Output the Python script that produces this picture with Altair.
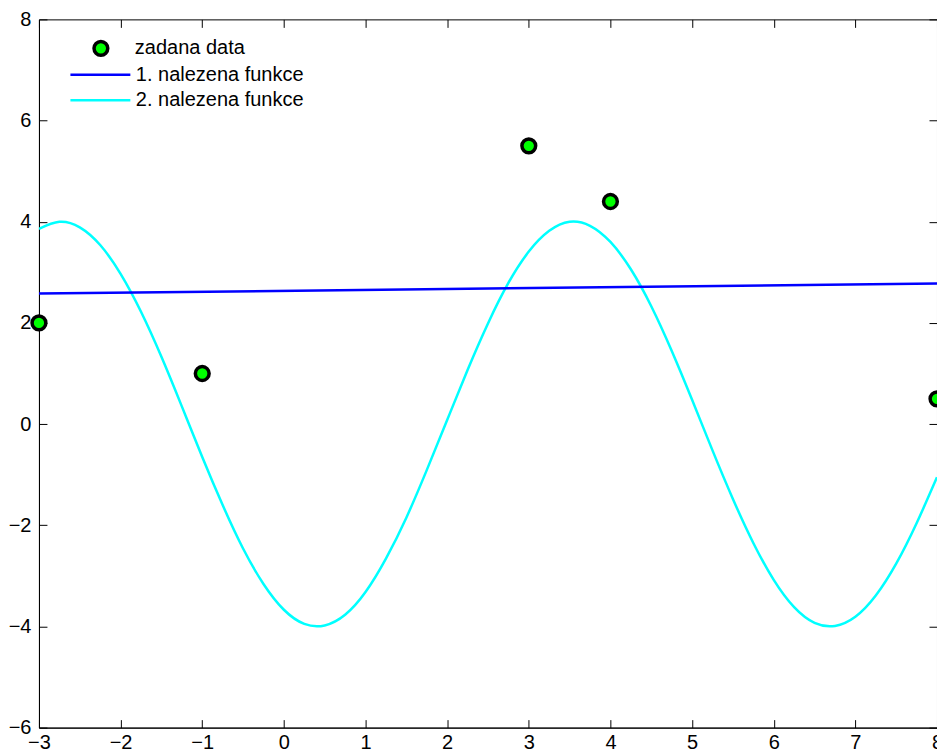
import altair as alt
import pandas as pd

# Data
data_x = [-3, -1, 3, 4, 8]
data_y = [2.0, 1.0, 5.5, 4.4, 0.5]

f1_x = [-3, 8]
f1_y = [2.58, 2.78]

f2_x = [-3.0, -2.75, -2.5, -2.25, -2.0, -1.75, -1.5, -1.25, -1.0, -0.75, -0.5, -0.25,
        0.0, 0.25, 0.5, 0.75, 1.0, 1.25, 1.5, 1.75, 2.0, 2.25, 2.5, 2.75,
        3.0, 3.25, 3.5, 3.75, 4.0, 4.25, 4.5, 4.75, 5.0, 5.25, 5.5, 5.75,
        6.0, 6.25, 6.5, 6.75, 7.0, 7.25, 7.5, 7.75, 8.0]
f2_y = [3.86, 4.00, 3.89, 3.54, 2.97, 2.22, 1.33, 0.35, -0.65, -1.60, -2.46, -3.16,
        -3.67, -3.95, -3.98, -3.77, -3.32, -2.66, -1.85, -0.91, 0.08, 1.07, 1.99, 2.79,
        3.41, 3.82, 4.00, 3.92, 3.60, 3.06, 2.33, 1.45, 0.48, -0.52, -1.48, -2.35,
        -3.08, -3.62, -3.93, -3.99, -3.81, -3.39, -2.76, -1.96, -1.05]

point_name = ["zadana data"]
point_color = ["#00ff00"]
line_names = ["1. nalezena funkce", "2. nalezena funkce"]
line_colors = ["#0000ff", "#00ffff"]

x_ticks = list(range(-3, 9))
y_ticks = list(range(-6, 9, 2))

W, H = 899, 709
FONT = "Liberation Sans"
FS = 20

df_pts = pd.DataFrame({"x": data_x, "y": data_y, "s": point_name[0]})
df_f1 = pd.DataFrame({"x": f1_x, "y": f1_y, "s": line_names[0]})
df_f2 = pd.DataFrame({"x": f2_x, "y": f2_y, "s": line_names[1]})

xscale = alt.Scale(domain=[-3, 8], nice=False, zero=False)
yscale = alt.Scale(domain=[-6, 8], nice=False, zero=False)

pt_legend = alt.Legend(
    title=None, orient="none", legendX=52, legendY=19,
    labelFont=FONT, labelFontSize=FS, labelColor="black", labelOffset=24, labelLimit=500,
    symbolType="circle", symbolSize=190, symbolStrokeColor="black",
    symbolStrokeWidth=3.5, symbolFillColor="#00ff00", symbolOpacity=1,
)
ln_legend = alt.Legend(
    title=None, orient="none", legendX=50, legendY=44,
    labelFont=FONT, labelFontSize=FS, labelColor="black", labelOffset=24, labelLimit=500,
    symbolType="M-3,0H3", symbolSize=400, symbolStrokeWidth=2.5, symbolOpacity=1,
    rowPadding=3.5,
)

fill = alt.Fill("s:N", scale=alt.Scale(domain=point_name, range=point_color), legend=pt_legend)
stroke = alt.Stroke("s:N", scale=alt.Scale(domain=line_names, range=line_colors), legend=ln_legend)


def tick_axis(orient, offset, values):
    return alt.Axis(orient=orient, offset=offset, values=values, labels=False, domain=False,
                    ticks=True, tickSize=8, tickColor="black", tickWidth=1, grid=False, title=None)


lbl_x = alt.Axis(orient="bottom", values=x_ticks, ticks=False, domain=True, domainColor="black",
                 domainWidth=1, labelFont=FONT, labelFontSize=FS, labelColor="black",
                 labelPadding=5, grid=False, title=None, labelFlush=False, format="d")
lbl_y = alt.Axis(orient="left", values=y_ticks, ticks=False, domain=True, domainColor="black",
                 domainWidth=1, labelFont=FONT, labelFontSize=FS, labelColor="black",
                 labelPadding=8, grid=False, title=None, labelFlush=False, format="d")

line2 = alt.Chart(df_f2).mark_line(strokeWidth=2.5, interpolate="natural", clip=True).encode(
    x=alt.X("x:Q", scale=xscale, axis=tick_axis("bottom", -H, x_ticks)),
    y=alt.Y("y:Q", scale=yscale, axis=tick_axis("left", -W, y_ticks)),
    stroke=stroke,
)

line1 = alt.Chart(df_f1).mark_line(strokeWidth=2.5, clip=True).encode(
    x=alt.X("x:Q", scale=xscale, axis=tick_axis("top", -H, x_ticks)),
    y=alt.Y("y:Q", scale=yscale, axis=tick_axis("right", -W, y_ticks)),
    stroke=stroke,
)

pts = alt.Chart(df_pts).mark_point(filled=True, size=190, stroke="black", strokeWidth=3.5,
                                    opacity=1, fillOpacity=1, strokeOpacity=1).encode(
    x=alt.X("x:Q", scale=xscale, axis=lbl_x),
    y=alt.Y("y:Q", scale=yscale, axis=lbl_y),
    fill=fill,
)

chart = alt.layer(line2, line1, pts).resolve_scale(
    x="shared", y="shared"
).resolve_axis(
    x="independent", y="independent"
).properties(
    width=W, height=H,
    autosize=alt.AutoSizeParams(type="none"),
    padding={"left": 39, "top": 19, "right": 0, "bottom": 24},
    background="white",
).configure_view(
    stroke="black", strokeWidth=1
)

chart.save("out.html", embed_options={"renderer": "svg", "actions": False})
